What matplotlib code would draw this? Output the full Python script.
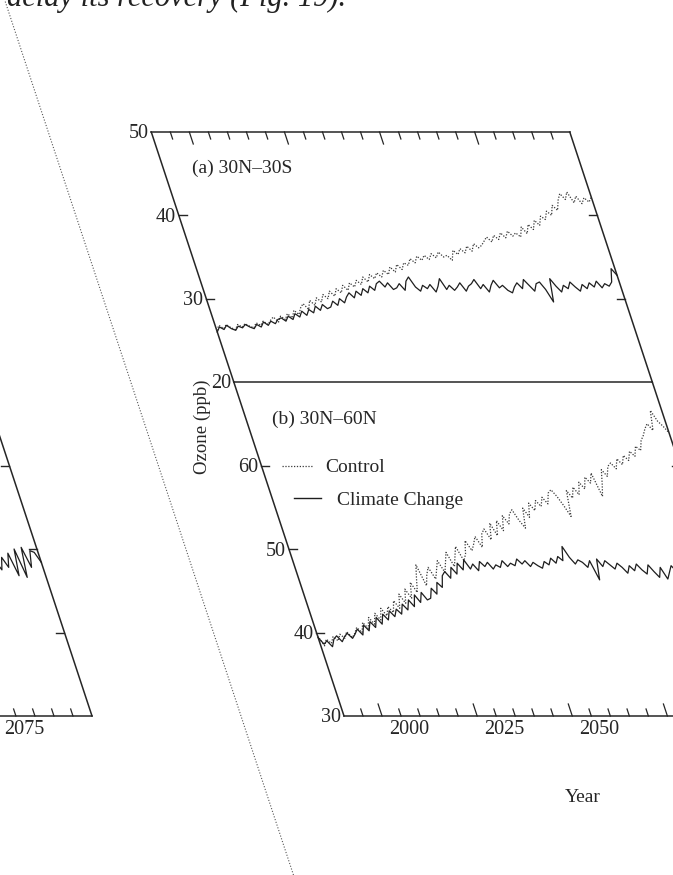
import numpy as np
import matplotlib
matplotlib.use("Agg")
import matplotlib.pyplot as plt
from matplotlib import transforms
from matplotlib.lines import Line2D

plt.rcParams['font.family'] = ['Liberation Serif', 'DejaVu Serif']

W, H, DPI = 673, 875, 100
SHEAR = 0.33          # the scan is slanted: x shifts right as we go down
BASE_ROW = 716        # image row that is not shifted by the slant
INK = '#262626'

# ---- data (ppb), one value per year ----
years = np.arange(1990, 2101)

tropics_control = [
    26.2, 26.8, 26.4, 26.9, 26.5, 26.3, 26.9, 26.6, 27.0, 26.7,
    26.5, 27.1, 26.8, 27.3, 26.9, 27.4, 27.8, 27.2, 27.9, 27.5,
    28.2, 27.7, 28.6, 28.1, 28.9, 29.4, 28.7, 29.8, 29.2, 30.1,
    29.6, 30.5, 30.0, 30.9, 30.3, 31.2, 30.7, 31.6, 31.0, 31.9,
    31.4, 32.2, 31.7, 32.6, 32.0, 32.9, 32.4, 33.1, 32.6, 33.4,
    32.9, 33.8, 33.2, 34.1, 33.5, 34.3, 34.0, 34.8, 34.3, 35.1,
    34.6, 35.2, 34.7, 35.4, 34.9, 35.6, 35.0, 35.2, 34.6, 35.8,
    35.3, 36.0, 35.5, 36.3, 35.7, 36.6, 36.1, 36.4, 36.9, 37.4,
    36.8, 37.6, 37.1, 37.9, 37.3, 38.1, 37.5, 37.9, 37.4, 38.6,
    37.8, 38.9, 38.3, 39.4, 38.8, 39.9, 39.5, 40.5, 40.0, 41.2,
    40.6, 41.8, 42.6, 41.9, 42.8, 41.5, 42.3, 41.4, 42.1, 41.6,
    42.2,
]
tropics_climate = [
    26.0, 26.6, 26.3, 26.8, 26.4, 26.2, 26.7, 26.5, 26.9, 26.6,
    26.4, 26.9, 26.6, 27.2, 26.8, 27.3, 27.0, 27.5, 27.7, 27.3,
    27.9, 27.5, 28.2, 27.8, 28.5, 28.0, 28.7, 28.3, 29.1, 28.6,
    29.3, 28.8, 29.0, 29.7, 29.2, 30.0, 29.5, 30.2, 30.7, 30.1,
    30.9, 30.4, 31.2, 30.7, 31.5, 31.0, 31.8, 32.1, 31.4, 31.9,
    31.1, 31.3, 31.8, 31.0, 32.1, 32.6, 31.4, 30.9, 31.6, 31.2,
    31.7, 30.8, 31.5, 32.4, 31.1, 31.6, 31.0, 31.4, 31.9, 30.9,
    31.5, 31.8, 32.3, 31.2, 31.7, 30.8, 31.6, 32.2, 31.3, 31.6,
    31.0, 30.7, 31.4, 31.9, 31.2, 32.3, 31.6, 30.9, 31.8, 32.0,
    31.1, 29.6, 32.4, 31.5, 30.8, 31.6, 31.2, 32.0, 31.4, 30.9,
    31.7, 31.2, 31.9, 31.4, 32.1, 31.3, 31.8, 31.5, 32.0, 33.6,
    32.8,
]
midlat_control = [
    39.6, 38.4, 39.2, 38.7, 39.5, 39.0, 39.8, 39.3, 40.1, 39.4,
    39.9, 40.6, 40.0, 41.2, 40.5, 41.8, 41.0, 42.3, 41.5, 42.9,
    42.0, 43.1, 42.4, 43.8, 42.9, 44.6, 43.5, 45.2, 44.1, 46.0,
    44.8, 46.5, 48.1, 45.6, 46.9, 47.8, 46.4, 47.5, 48.6, 47.2,
    48.4, 49.6, 47.9, 49.1, 50.3, 48.6, 49.4, 51.0, 49.8, 50.6,
    51.5, 50.2, 51.8, 52.4, 51.1, 53.1, 51.6, 53.4, 52.2, 54.0,
    53.0, 54.2, 54.7, 53.4, 52.5, 54.9, 53.8, 55.5, 54.6, 55.8,
    55.1, 56.2, 55.4, 56.7, 57.1, 56.3, 55.2, 53.9, 57.0, 56.1,
    57.4, 56.5, 58.0, 57.2, 58.6, 57.9, 59.1, 56.3, 57.8, 59.5,
    58.7, 59.9, 60.3, 59.6, 60.8, 60.1, 61.2, 60.6, 61.7, 61.1,
    62.3, 61.8, 63.0, 63.6, 64.4, 65.0, 64.2, 66.6, 65.3, 64.7,
    63.9,
]
midlat_climate = [
    39.4, 38.6, 39.0, 38.3, 39.2, 39.6, 38.9, 39.5, 39.9, 39.3,
    39.8, 40.4, 39.7, 40.9, 40.2, 41.3, 40.6, 41.8, 41.0, 42.2,
    41.5, 42.6, 41.9, 42.8, 42.2, 43.4, 42.7, 43.9, 43.1, 44.5,
    43.6, 44.8, 43.9, 44.1, 45.3, 44.6, 46.0, 45.4, 46.8, 47.3,
    46.5, 47.8, 47.0, 48.3, 47.5, 48.7, 47.6, 48.2, 47.4, 48.5,
    47.9, 48.4, 47.6, 48.1, 47.8, 48.6, 47.9, 48.3, 48.0, 48.8,
    48.2, 48.6, 47.9, 48.4, 48.0, 47.7, 48.5, 48.1, 48.9, 48.3,
    49.1, 48.6, 50.3, 49.0, 48.2, 48.7, 48.4, 47.8, 48.6, 46.3,
    48.8, 47.9, 48.6, 48.1, 47.6, 48.3, 47.8, 47.1, 48.0, 47.4,
    48.2, 47.5, 47.0, 48.1, 47.3, 46.6, 47.8, 46.4, 47.2, 48.0,
    47.3, 46.8, 47.6, 47.1, 47.9, 47.4, 46.9, 47.7, 47.2, 47.8,
    47.5,
]
# tail of the previous figure, only its last years show at the left edge
prev_years = np.arange(2088, 2101)
prev_values = [48.6, 47.5, 49.0, 47.8, 49.5, 46.8, 50.0, 46.6, 50.2, 47.8, 49.8, 49.6, 48.4]

minor_years = list(range(1995, 2100, 5))
major_years = [2000, 2025, 2050, 2075]

fig = plt.figure(figsize=(W / DPI, H / DPI), dpi=DPI)
fig.patch.set_facecolor('white')

shear = transforms.Affine2D(np.array([[1.0, -SHEAR, SHEAR * (H - BASE_ROW)],
                                      [0.0, 1.0, 0.0],
                                      [0.0, 0.0, 1.0]]))


def offset(dx, dy):
    return transforms.ScaledTranslation(dx / DPI, dy / DPI, fig.dpi_scale_trans)


def make_axes(left, top, bottom, width, ylim):
    ax = fig.add_axes([left / W, 1 - bottom / H, width / W, (bottom - top) / H])
    ax.set_xlim(1990, 2100)
    ax.set_ylim(*ylim)
    ax.set_autoscale_on(False)
    ax.axis('off')
    return ax


def draw_panel(ax, height_px, width_px, edges, ylabels, yticks_left, yticks_right,
               xticks_side=None, xlabels=()):
    tr_axes = ax.transAxes + shear
    tr_y = transforms.blended_transform_factory(ax.transAxes, ax.transData) + shear
    tr_x = transforms.blended_transform_factory(ax.transData, ax.transAxes) + shear
    for (x0, y0, x1, y1) in edges:
        ax.plot([x0, x1], [y0, y1], transform=tr_axes, color=INK, lw=1.1,
                clip_on=False, solid_capstyle='projecting')
    tl = 8 / width_px
    for v in yticks_left:
        ax.plot([0, tl], [v, v], transform=tr_y, color=INK, lw=1.0, clip_on=False)
    for v in yticks_right:
        ax.plot([1 - tl, 1], [v, v], transform=tr_y, color=INK, lw=1.0, clip_on=False)
    for v in ylabels:
        ax.text(0, v, str(v), transform=tr_y + offset(-3, -2), ha='right', va='center',
                fontsize=14.5, color=INK)
    if xticks_side is not None:
        sgn = 1 if xticks_side == 0 else -1
        for yr in minor_years:
            ln = (12 if yr in major_years else 7) / height_px
            ax.plot([yr, yr], [xticks_side, xticks_side + sgn * ln], transform=tr_x,
                    color=INK, lw=0.9, clip_on=False)
    for yr in xlabels:
        ax.text(yr, 0, str(yr), transform=tr_x + offset(27, -14), ha='center',
                va='center', fontsize=14.5, color=INK)


def draw_series(ax, x, y, dotted):
    if dotted:
        ax.plot(x, y, transform=ax.transData + shear, color='#3a3a3a', lw=0.9,
                ls=(0, (1, 1.3)), clip_on=False)
    else:
        ax.plot(x, y, transform=ax.transData + shear, color='#1e1e1e', lw=0.9,
                clip_on=False)


LEFT, WIDTH = 344, 418.5

# panel (a) 30N-30S
ax_a = make_axes(LEFT, 132, 382, WIDTH, (20, 50))
draw_panel(ax_a, 250, WIDTH,
           edges=[(0, 0, 1, 0), (0, 1, 1, 1), (0, 0, 0, 1), (1, 0, 1, 1)],
           ylabels=[20, 30, 40, 50], yticks_left=[30, 40], yticks_right=[30, 40],
           xticks_side=1)
draw_series(ax_a, years, tropics_control, True)
draw_series(ax_a, years, tropics_climate, False)
ax_a.text(0.069, 0.856, '(a) 30N–30S', transform=ax_a.transAxes + shear,
          ha='left', va='center', fontsize=14, color=INK)

# panel (b) 30N-60N
ax_b = make_axes(LEFT, 382, 716, WIDTH, (30, 70))
draw_panel(ax_b, 334, WIDTH,
           edges=[(0, 0, 1, 0), (0, 0, 0, 1), (1, 0, 1, 1)],
           ylabels=[30, 40, 50, 60], yticks_left=[40, 50, 60], yticks_right=[40, 50, 60],
           xticks_side=0, xlabels=[2000, 2025, 2050])
draw_series(ax_b, years, midlat_control, True)
draw_series(ax_b, years, midlat_climate, False)
tb = ax_b.transAxes + shear
ax_b.text(0.061, 0.889, '(b) 30N–60N', transform=tb, ha='left', va='center',
          fontsize=14, color=INK)
ax_b.plot([0.049, 0.123], [0.749, 0.749], transform=tb, color='#3a3a3a', lw=0.9,
          ls=(0, (1, 1.3)), clip_on=False)
ax_b.text(0.150, 0.744, 'Control', transform=tb, ha='left', va='center',
          fontsize=14, color=INK)
ax_b.plot([0.053, 0.117], [0.654, 0.654], transform=tb, color='#1e1e1e', lw=1.0,
          clip_on=False)
ax_b.text(0.153, 0.645, 'Climate Change', transform=tb, ha='left', va='center',
          fontsize=14, color=INK)

# previous figure, cut by the left page edge
ax_p = make_axes(LEFT - 670.5, 382, 716, WIDTH, (30, 70))
draw_panel(ax_p, 334, WIDTH,
           edges=[(0, 0, 1, 0), (1, 0, 1, 1)],
           ylabels=[], yticks_left=[], yticks_right=[40, 50, 60],
           xticks_side=0, xlabels=[2075])
draw_series(ax_p, prev_years, prev_values, False)

# page fold line
fig.add_artist(Line2D([241 / W, 241 / W], [0, 1], transform=fig.transFigure + shear,
                      color='#555555', lw=0.8, ls=(0, (1, 1.6))))

fig.text(202 / W, 1 - 427 / H, 'Ozone (ppb)', rotation=90, ha='center', va='center',
         fontsize=13.5, color=INK)
fig.text(583 / W, 1 - 797 / H, 'Year', ha='center', va='center', fontsize=14, color=INK)
fig.text(7 / W, 1 - 6 / H, 'delay its recovery (Fig. 19).', ha='left', va='baseline',
         fontsize=22, style='italic', color='#222222')

fig.savefig('out.png', dpi=DPI, facecolor='white')
